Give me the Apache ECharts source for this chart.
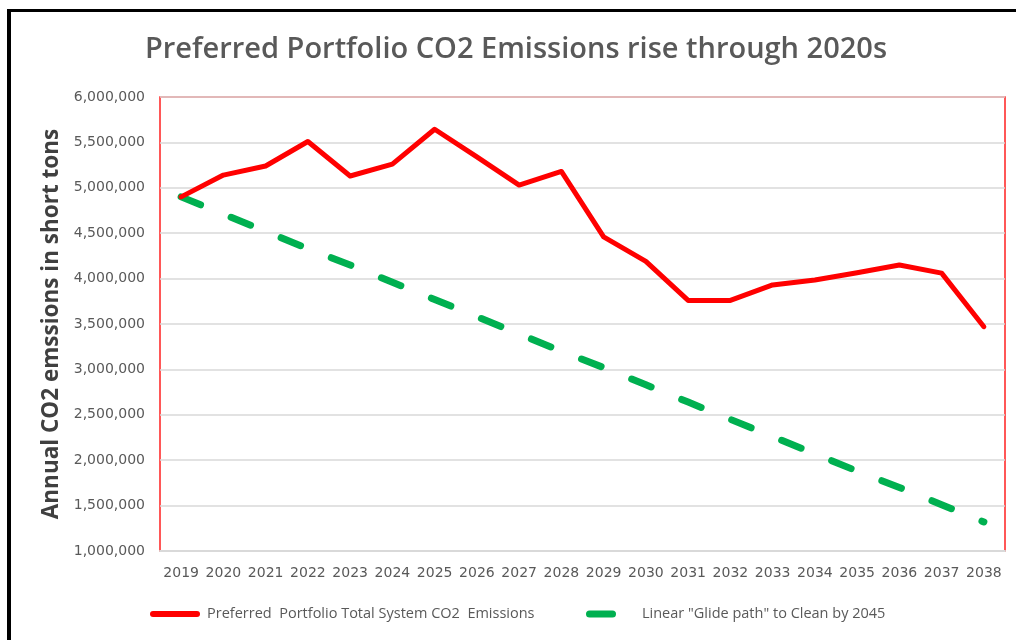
<!DOCTYPE html>
<html>
<head>
<meta charset="utf-8">
<script src="https://cdn.jsdelivr.net/npm/echarts@6/dist/echarts.min.js"></script>
<style>
  html, body { margin: 0; padding: 0; background: #ffffff; }
  #wrap { position: relative; width: 1016px; height: 640px; overflow: hidden; background: #fff; }
  #chart { position: absolute; left: 0; top: 0; width: 1016px; height: 640px; }
  #frameTop { position: absolute; left: 7px; top: 9px; width: 1009px; height: 3px; background: #000; }
  #frameLeft { position: absolute; left: 7px; top: 9px; width: 4px; height: 631px; background: #000; }
</style>
</head>
<body>
<div id="wrap">
  <div id="chart"></div>
  <div id="frameTop"></div>
  <div id="frameLeft"></div>
</div>
<script>
const titleText = 'Preferred Portfolio CO2 Emissions rise through 2020s';
const yAxisName = 'Annual CO2 emssions in short tons';
const years = ['2019','2020','2021','2022','2023','2024','2025','2026','2027','2028',
               '2029','2030','2031','2032','2033','2034','2035','2036','2037','2038'];
const portfolioName = 'Preferred  Portfolio Total System CO2  Emissions';
const portfolioValues = [4900000, 5140000, 5240000, 5510000, 5130000, 5260000, 5645000, 5340000, 5030000, 5180000,
                         4460000, 4190000, 3760000, 3760000, 3930000, 3985000, 4065000, 4150000, 4060000, 3470000];
const glideName = 'Linear "Glide path" to Clean by 2045';
const glideValues = [4900000, 4710000, 4520000, 4330000, 4150000, 3960000, 3770000, 3580000, 3390000, 3200000,
                     3020000, 2830000, 2640000, 2450000, 2260000, 2070000, 1880000, 1700000, 1510000, 1320000];
const yMin = 1000000, yMax = 6000000, yStep = 500000;

function fmt(v) { return String(v).replace(/\B(?=(\d{3})+(?!\d))/g, ','); }

const capsuleRed = 'path://M3,0 L47,0 A3,3 0 0 1 47,6 L3,6 A3,3 0 0 1 3,0 Z';
const capsuleGreen = 'path://M3.5,0 L26.5,0 A3.5,3.5 0 0 1 26.5,7 L3.5,7 A3.5,3.5 0 0 1 3.5,0 Z';

const chart = echarts.init(document.getElementById('chart'), null, { renderer: 'canvas' });
chart.setOption({
  backgroundColor: '#ffffff',
  animation: false,
  title: {
    text: titleText,
    left: 145,
    top: 35,
    padding: 0,
    textStyle: { fontFamily: 'Open Sans', fontWeight: 600, fontSize: 29, color: '#595959' }
  },
  grid: {
    left: 160, right: 11, top: 97, bottom: 89,
    show: true, borderColor: '#ff2020', borderWidth: 1.5, backgroundColor: 'transparent'
  },
  legend: [
    {
      data: [{ name: portfolioName, icon: capsuleRed }],
      left: 150, top: 606, padding: 0, itemWidth: 50, itemHeight: 6,
      itemStyle: { color: '#ff0000', borderWidth: 0, borderType: 'solid', decal: 'none' },
      textStyle: { fontFamily: 'Open Sans', fontSize: 14.5, color: '#595959', lineHeight: 16, padding: [0, 0, 0, 2] }
    },
    {
      data: [{ name: glideName, icon: capsuleGreen }],
      left: 586, top: 606, padding: 0, itemWidth: 30, itemHeight: 7,
      itemStyle: { color: '#00b050', borderWidth: 0, borderType: 'solid', decal: 'none' },
      textStyle: { fontFamily: 'Open Sans', fontSize: 14.5, color: '#595959', lineHeight: 16, padding: [0, 0, 0, 21] }
    }
  ],
  xAxis: {
    type: 'category',
    data: years,
    boundaryGap: true,
    axisLine: { show: true, lineStyle: { color: '#d9d9d9', width: 2 } },
    axisTick: { show: false },
    axisLabel: { interval: 0, margin: 15, fontFamily: 'DejaVu Sans', fontSize: 14, color: '#595959' },
    splitLine: { show: false },
    z: 5
  },
  yAxis: {
    type: 'value',
    min: yMin, max: yMax, interval: yStep,
    name: yAxisName,
    nameLocation: 'middle',
    nameGap: 93,
    nameTextStyle: { fontFamily: 'Open Sans', fontWeight: 700, fontSize: 22.5, color: '#404040' },
    axisLine: { show: false },
    axisTick: { show: false },
    axisLabel: { margin: 15, fontFamily: 'DejaVu Sans', fontSize: 14, color: '#595959', formatter: fmt },
    splitLine: { show: true, lineStyle: { color: '#d9d9d9', width: 1.5 } }
  },
  series: [
    {
      name: portfolioName,
      type: 'line',
      data: portfolioValues,
      symbol: 'none',
      lineStyle: { color: '#ff0000', width: 5, join: 'round', cap: 'round' },
      itemStyle: { color: '#ff0000' },
      z: 4
    },
    {
      name: glideName,
      type: 'line',
      data: glideValues,
      symbol: 'none',
      lineStyle: { color: '#00b050', width: 7, type: [21, 33], cap: 'round' },
      itemStyle: { color: '#00b050' },
      z: 3
    }
  ]
});
</script>
</body>
</html>
